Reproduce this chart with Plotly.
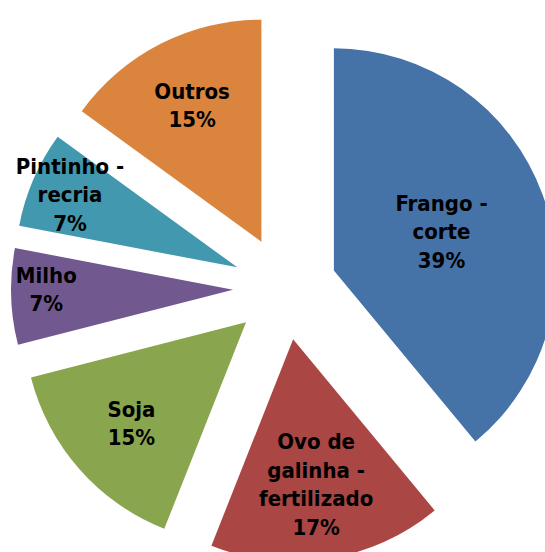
import plotly.graph_objects as go

categories = ["Frango - corte", "Ovo de galinha - fertilizado", "Soja", "Milho", "Pintinho - recria", "Outros"]
label_text = ["Frango -<br>corte", "Ovo de<br>galinha -<br>fertilizado", "Soja", "Milho", "Pintinho -<br>recria", "Outros"]
values = [39, 17, 15, 7, 7, 15]
colors = ["#4572A7", "#AA4643", "#89A54E", "#71588F", "#4198AF", "#DB843D"]

texts = [f"<b>{t}<br>{v}%</b>" for t, v in zip(label_text, values)]

W, H = 560, 562
fig = go.Figure(go.Pie(
    labels=categories,
    values=values,
    text=texts,
    textinfo="text",
    textposition="inside",
    insidetextorientation="horizontal",
    sort=False,
    direction="clockwise",
    rotation=0,
    pull=[0.234] * 6,
    marker=dict(colors=colors, line=dict(width=0)),
    insidetextfont=dict(family="DejaVu Sans Condensed, Liberation Sans Narrow, sans-serif", size=22, color="black"),
    domain=dict(x=[11 / W, 559 / W], y=[0, (H - 14) / H]),
    hoverinfo="label+percent",
))

fig.update_layout(
    width=W,
    height=H,
    margin=dict(l=0, r=0, t=0, b=0),
    showlegend=False,
    paper_bgcolor="white",
    uniformtext=dict(minsize=22, mode="show"),
)

fig.write_html(
    "out.html",
    config={"displayModeBar": False},
    post_script=(
        "document.documentElement.style.overflow='hidden';"
        "document.body.style.margin='0';"
        "document.body.style.overflow='hidden';"
    ),
)
